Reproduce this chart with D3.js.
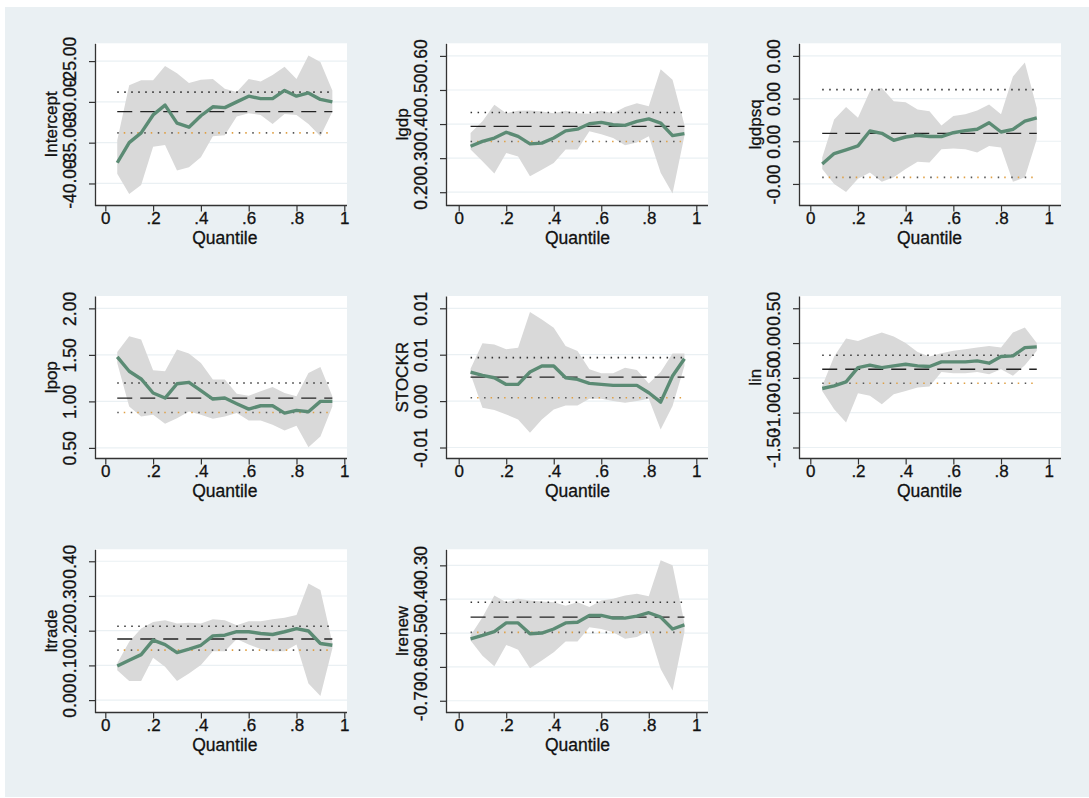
<!DOCTYPE html>
<html>
<head>
<meta charset="utf-8">
<script src="https://cdn.jsdelivr.net/npm/d3@7"></script>
<style>
body { margin: 0; background: #fff; }
text { font-family: "Liberation Sans", Arial, sans-serif; fill: #111; stroke: #111; stroke-width: 0.3px; }
</style>
</head>
<body>
<div id="chart"></div>
<script>
var quantiles = [0.05, 0.10, 0.15, 0.20, 0.25, 0.30, 0.35, 0.40, 0.45, 0.50,
                 0.55, 0.60, 0.65, 0.70, 0.75, 0.80, 0.85, 0.90, 0.95];
var varNames = ["Intercept", "lgdp", "lgdpsq", "lpop", "STOCKR", "lin", "ltrade", "lrenew"];

// quantile regression coefficient, lower and upper bound of the CI
var coefIntercept = [-37.46, -35.0, -33.8, -31.6, -30.4, -32.6, -33.1, -31.7, -30.6, -30.7, -30.0, -29.3, -29.6, -29.6, -28.6, -29.3, -28.9, -29.7, -30.0];
var loIntercept = [-38.8, -41.3, -40.2, -35.5, -35.3, -38.4, -38.0, -36.8, -34.2, -34.1, -31.8, -31.4, -31.6, -32.7, -31.5, -31.6, -32.7, -34.2, -31.2];
var hiIntercept = [-34.7, -27.95, -27.34, -27.34, -25.6, -26.5, -27.7, -27.3, -27.2, -28.4, -28.8, -27.2, -27.5, -26.7, -25.7, -27.2, -24.3, -25.1, -28.6];

var coefLgdp = [0.335, 0.349, 0.359, 0.376, 0.364, 0.342, 0.344, 0.359, 0.380, 0.385, 0.401, 0.405, 0.398, 0.396, 0.408, 0.415, 0.403, 0.366, 0.372];
var loLgdp = [0.325, 0.291, 0.255, 0.315, 0.305, 0.247, 0.266, 0.286, 0.325, 0.325, 0.379, 0.370, 0.359, 0.338, 0.346, 0.364, 0.257, 0.196, 0.366];
var hiLgdp = [0.374, 0.408, 0.457, 0.432, 0.439, 0.440, 0.437, 0.432, 0.439, 0.432, 0.430, 0.439, 0.432, 0.450, 0.461, 0.452, 0.561, 0.530, 0.398];

var coefLgdpsq = [-0.535e-4, -0.287e-4, -0.2e-4, -0.109e-4, 0.24e-4, 0.186e-4, 0.023e-4, 0.1e-4, 0.14e-4, 0.11e-4, 0.11e-4, 0.2e-4, 0.248e-4, 0.28e-4, 0.434e-4, 0.217e-4, 0.28e-4, 0.473e-4, 0.55e-4];
var loLgdpsq = [-0.65e-4, -1.0e-4, -1.19e-4, -0.88e-4, -0.73e-4, -0.95e-4, -0.845e-4, -0.65e-4, -0.48e-4, -0.5e-4, -0.186e-4, -0.17e-4, -0.186e-4, -0.264e-4, -0.109e-4, -0.147e-4, -0.95e-4, -0.845e-4, 0.047e-4];
var hiLgdpsq = [-0.38e-4, 0.51e-4, 0.8e-4, 0.55e-4, 1.17e-4, 1.25e-4, 0.94e-4, 0.915e-4, 0.744e-4, 0.705e-4, 0.372e-4, 0.59e-4, 0.63e-4, 0.72e-4, 0.86e-4, 0.63e-4, 1.52e-4, 1.845e-4, 0.78e-4];

var coefLpop = [1.478, 1.324, 1.241, 1.09, 1.036, 1.19, 1.205, 1.115, 1.025, 1.036, 0.975, 0.917, 0.953, 0.953, 0.874, 0.903, 0.888, 1.0, 1.0];
var loLpop = [1.414, 0.946, 0.838, 0.856, 0.759, 0.82, 0.892, 0.856, 0.813, 0.838, 0.874, 0.795, 0.795, 0.748, 0.687, 0.737, 0.507, 0.622, 0.946];
var hiLpop = [1.53, 1.70, 1.665, 1.335, 1.324, 1.558, 1.514, 1.414, 1.234, 1.234, 1.083, 1.061, 1.108, 1.155, 1.09, 1.054, 1.306, 1.37, 1.054];

var coefStockr = [0.00313, 0.00277, 0.00252, 0.0018, 0.0018, 0.00313, 0.00378, 0.00378, 0.00252, 0.00234, 0.00191, 0.0018, 0.0017, 0.0017, 0.0017, 0.0009, -0.00011, 0.0027, 0.00457];
var loStockr = [0.00288, -0.00072, -0.00097, -0.00144, -0.00198, -0.00342, -0.00198, -0.0009, -0.00047, -0.00047, 0.00025, 0.00025, 0.0, -0.00018, 0.0, 0.00025, -0.00306, -0.00054, 0.00378];
var hiStockr = [0.00349, 0.00622, 0.00611, 0.00558, 0.00576, 0.0096, 0.0088, 0.0079, 0.00594, 0.0054, 0.00342, 0.00299, 0.00299, 0.0036, 0.00335, 0.00191, 0.00313, 0.00514, 0.00514];

var coefLin = [-0.653, -0.615, -0.557, -0.352, -0.318, -0.352, -0.328, -0.304, -0.328, -0.337, -0.27, -0.27, -0.27, -0.256, -0.289, -0.194, -0.184, -0.065, -0.055];
var loLin = [-0.687, -0.95, -1.141, -0.72, -0.758, -0.878, -0.734, -0.687, -0.639, -0.624, -0.414, -0.433, -0.433, -0.414, -0.447, -0.376, -0.471, -0.318, -0.112];
var hiLin = [-0.615, -0.194, 0.065, 0.031, 0.093, 0.151, 0.093, 0.0, -0.127, -0.194, -0.146, -0.112, -0.089, -0.065, -0.041, -0.065, 0.151, 0.222, 0.0];

var coefLtrade = [0.098, 0.115, 0.131, 0.173, 0.16, 0.137, 0.147, 0.158, 0.185, 0.187, 0.197, 0.197, 0.192, 0.189, 0.197, 0.206, 0.199, 0.163, 0.158];
var loLtrade = [0.086, 0.055, 0.055, 0.122, 0.096, 0.055, 0.077, 0.101, 0.141, 0.141, 0.176, 0.16, 0.147, 0.141, 0.141, 0.16, 0.048, 0.012, 0.149];
var hiLtrade = [0.106, 0.168, 0.206, 0.225, 0.23, 0.221, 0.223, 0.221, 0.233, 0.23, 0.216, 0.227, 0.227, 0.233, 0.237, 0.245, 0.336, 0.317, 0.165];

var coefLrenew = [-0.517, -0.507, -0.496, -0.47, -0.47, -0.502, -0.5, -0.488, -0.47, -0.468, -0.448, -0.448, -0.456, -0.456, -0.45, -0.44, -0.453, -0.488, -0.476];
var loLrenew = [-0.522, -0.567, -0.598, -0.535, -0.549, -0.604, -0.581, -0.557, -0.525, -0.525, -0.483, -0.488, -0.498, -0.517, -0.512, -0.493, -0.606, -0.67, -0.498];
var hiLrenew = [-0.507, -0.453, -0.389, -0.409, -0.399, -0.404, -0.407, -0.409, -0.419, -0.409, -0.423, -0.404, -0.399, -0.389, -0.384, -0.391, -0.285, -0.3, -0.47];

// OLS estimate and its CI, one value per variable
var olsCoef = [-31.2, 0.393, 0.186e-4, 1.036, 0.00259, -0.376, 0.176, -0.453];
var olsLo = [-33.8, 0.349, -0.845e-4, 0.881, 0.00036, -0.577, 0.144, -0.498];
var olsHi = [-28.8, 0.434, 1.21e-4, 1.198, 0.00468, -0.175, 0.213, -0.409];

// y axis ranges and ticks (labels as Stata printed them, %4.2f)
var yRanges = [[-42.70, -22.82], [0.161, 0.637], [-1.505e-4, 2.295e-4], [0.386, 2.133],
               [-0.006184, 0.011324], [-1.658, 0.676], [-0.0357, 0.4345], [-0.7347, -0.2526]];
var yTicks = [[-40, -35, -30, -25], [0.2, 0.3, 0.4, 0.5, 0.6], [-1e-4, 0, 1e-4, 2e-4], [0.5, 1, 1.5, 2],
              [-0.005, 0, 0.005, 0.01], [-1.5, -1, -0.5, 0, 0.5], [0, 0.1, 0.2, 0.3, 0.4], [-0.7, -0.6, -0.5, -0.4, -0.3]];
var yTickLabels = [["-40.00", "-35.00", "-30.00", "-25.00"], ["0.20", "0.30", "0.40", "0.50", "0.60"],
                   ["-0.00", "0.00", "0.00", "0.00"], ["0.50", "1.00", "1.50", "2.00"],
                   ["-0.01", "0.00", "0.01", "0.01"], ["-1.50", "-1.00", "-0.50", "0.00", "0.50"],
                   ["0.00", "0.10", "0.20", "0.30", "0.40"], ["-0.70", "-0.60", "-0.50", "-0.40", "-0.30"]];
var xTicks = [0, 0.2, 0.4, 0.6, 0.8, 1];
var xTickLabels = ["0", ".2", ".4", ".6", ".8", "1"];

var coefs = [coefIntercept, coefLgdp, coefLgdpsq, coefLpop, coefStockr, coefLin, coefLtrade, coefLrenew];
var los = [loIntercept, loLgdp, loLgdpsq, loLpop, loStockr, loLin, loLtrade, loLrenew];
var his = [hiIntercept, hiLgdp, hiLgdpsq, hiLpop, hiStockr, hiLin, hiLtrade, hiLrenew];

// plot region frames of the 3x3 grid
var cols = [{left: 95, right: 347, q0: 105.3, q1: 344.3},
            {left: 446, right: 708, q0: 458.7, q1: 696.3},
            {left: 799, right: 1061, q0: 810.3, q1: 1048.7}];
var rows = [{top: 43.3, bottom: 205.5}, {top: 296, bottom: 458.5}, {top: 549.3, bottom: 712.5}];

var W = 1089, H = 798;
var svg = d3.select("#chart").append("svg").attr("width", W).attr("height", H);

svg.append("rect").attr("x", 5).attr("y", 7).attr("width", W - 5).attr("height", H - 8)
  .attr("fill", "#eaf0f3");

function drawPanel(k) {
  var col = cols[k % 3], row = rows[Math.floor(k / 3)];
  var x = d3.scaleLinear().domain([0, 1]).range([col.q0, col.q1]);
  var y = d3.scaleLinear().domain(yRanges[k]).range([row.bottom, row.top]);
  var g = svg.append("g");

  g.append("rect")
    .attr("x", col.left).attr("y", row.top)
    .attr("width", col.right - col.left).attr("height", row.bottom - row.top)
    .attr("fill", "#fff");

  g.selectAll("line.grid").data(yTicks[k]).enter().append("line")
    .attr("class", "grid")
    .attr("x1", col.left).attr("x2", col.right)
    .attr("y1", d => y(d)).attr("y2", d => y(d))
    .attr("stroke", "#eaf0f3").attr("stroke-width", 1.2);

  var area = d3.area()
    .x((d, j) => x(quantiles[j]))
    .y0((d, j) => y(los[k][j]))
    .y1((d, j) => y(his[k][j]));
  g.append("path").datum(coefs[k]).attr("d", area).attr("fill", "#d9d9d9");

  // OLS lines
  var qx = [quantiles[0], quantiles[quantiles.length - 1]];
  function olsLine(v, color, dash, width, offset) {
    g.append("line")
      .attr("x1", x(qx[0])).attr("x2", x(qx[1]))
      .attr("y1", y(v)).attr("y2", y(v))
      .attr("stroke", color).attr("stroke-width", width)
      .attr("stroke-dasharray", dash).attr("stroke-dashoffset", offset || 0);
  }
  olsLine(olsHi[k], "#333", "1.5,5.5", 1.6);
  olsLine(olsLo[k], "#555", "1.5,12", 1.6);
  olsLine(olsLo[k], "#e0a044", "1.5,12", 1.6, 7);
  olsLine(olsCoef[k], "#222", "15,8", 1.3);

  var line = d3.line().x((d, j) => x(quantiles[j])).y(d => y(d));
  g.append("path").datum(coefs[k]).attr("d", line)
    .attr("fill", "none").attr("stroke", "#5b8b74").attr("stroke-width", 3.4)
    .attr("stroke-linejoin", "round");

  // y axis
  var ya = g.append("g").attr("transform", "translate(" + col.left + ",0)")
    .call(d3.axisLeft(y).tickValues(yTicks[k]).tickFormat((d, j) => yTickLabels[k][j])
      .tickSize(6).tickSizeOuter(0));
  ya.attr("color", "#333").attr("font-size", null).attr("font-family", null);
  ya.select(".domain").attr("stroke-width", 1.3);
  ya.selectAll(".tick line").attr("stroke-width", 1.2);
  ya.selectAll(".tick text")
    .attr("x", 0).attr("dy", 0).attr("text-anchor", "middle")
    .attr("transform", "translate(-19.5,0) rotate(-90)")
    .style("font-size", "17.5px");

  // x axis
  var xa = g.append("g").attr("transform", "translate(0," + row.bottom + ")")
    .call(d3.axisBottom(x).tickValues(xTicks).tickFormat((d, j) => xTickLabels[j])
      .tickSize(6).tickSizeOuter(0));
  xa.attr("color", "#333").attr("font-size", null).attr("font-family", null);
  xa.select(".domain").remove();
  xa.append("line").attr("x1", col.left).attr("x2", col.right)
    .attr("stroke", "#333").attr("stroke-width", 1.3);
  xa.selectAll(".tick line").attr("stroke-width", 1.2);
  xa.selectAll(".tick text").attr("y", 18.5).attr("dy", 0)
    .style("font-size", "17px");

  // titles
  g.append("text")
    .attr("transform", "translate(" + (col.left - 38.5) + "," + ((row.top + row.bottom) / 2) + ") rotate(-90)")
    .attr("text-anchor", "middle").style("font-size", "17px")
    .text(varNames[k]);
  g.append("text")
    .attr("x", (col.q0 + col.q1) / 2).attr("y", row.bottom + 38.5)
    .attr("text-anchor", "middle").style("font-size", "17.5px")
    .text("Quantile");
}

for (var k = 0; k < varNames.length; k++) drawPanel(k);
</script>
</body>
</html>
